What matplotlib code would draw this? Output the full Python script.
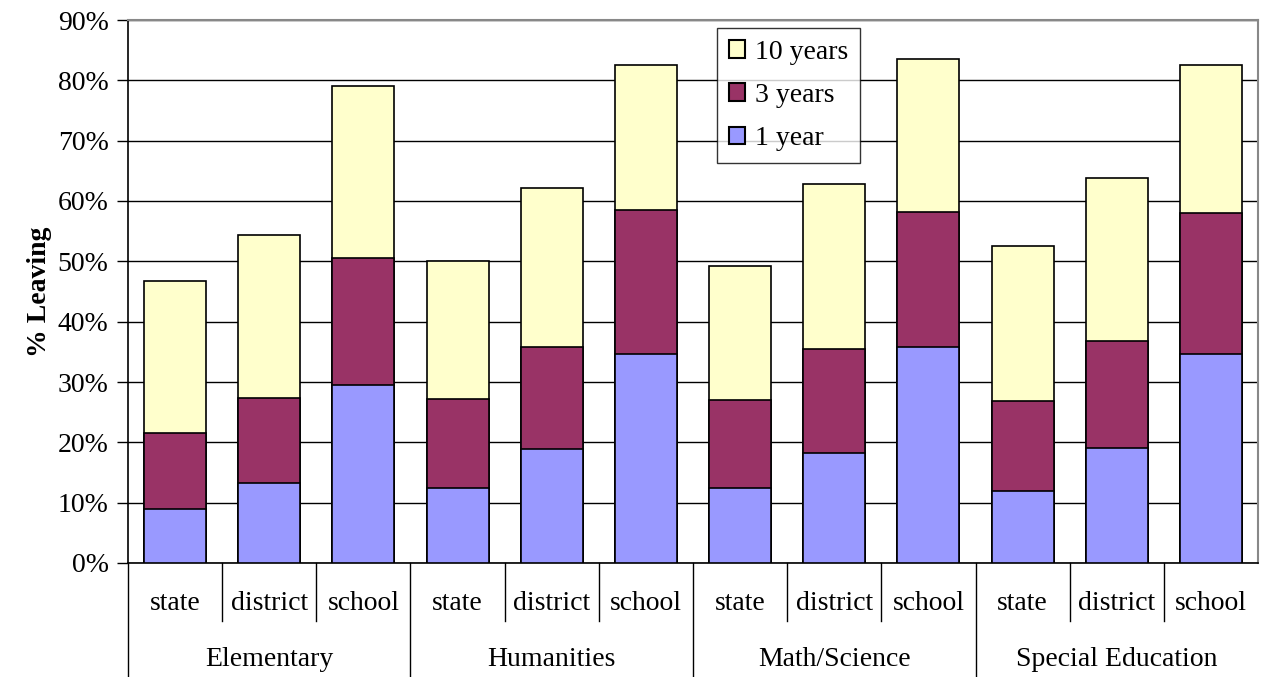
import matplotlib
matplotlib.use("Agg")
import matplotlib.pyplot as plt
from matplotlib.patches import Patch
import numpy as np

plt.rcParams['font.family'] = ['Liberation Serif', 'DejaVu Serif']

groups = ["Elementary", "Humanities", "Math/Science", "Special Education"]
levels = ["state", "district", "school"]
# cumulative percentages leaving
one_year = [9.0, 13.3, 29.5, 12.4, 18.9, 34.6, 12.4, 18.2, 35.8, 11.9, 19.1, 34.6]
three_years = [21.5, 27.3, 50.6, 27.2, 35.8, 58.5, 27.0, 35.5, 58.2, 26.9, 36.8, 58.0]
ten_years = [46.7, 54.4, 79.1, 50.1, 62.2, 82.5, 49.2, 62.8, 83.5, 52.5, 63.8, 82.5]

c1, c3, c10 = "#9999FF", "#993366", "#FFFFCC"
FS = 20

W, H = 1263, 677
fig = plt.figure(figsize=(W/100, H/100), dpi=100)
L, R, T, B = 128, 1258, 20, 563
ax = fig.add_axes([L/W, 1 - B/H, (R-L)/W, (B-T)/H])

n = len(one_year)
x = np.arange(n)
bw = 0.66
ax.bar(x, ten_years, bw, color=c10, edgecolor="black", linewidth=1.2, zorder=3, label="10 years")
ax.bar(x, three_years, bw, color=c3, edgecolor="black", linewidth=1.2, zorder=4, label="3 years")
ax.bar(x, one_year, bw, color=c1, edgecolor="black", linewidth=1.2, zorder=5, label="1 year")

ax.set_xlim(-0.5, n - 0.5)
ax.set_ylim(0, 90)
ax.set_yticks(np.arange(0, 91, 10))
ax.set_yticklabels([f"{v}%" for v in range(0, 91, 10)], fontsize=FS)
ax.yaxis.grid(True, color="black", linewidth=1.0, zorder=0)
ax.set_axisbelow(True)
ax.tick_params(axis='y', length=8, width=1, direction='out', pad=6)
ax.set_xticks([])
for s in ["top", "right"]:
    ax.spines[s].set_color("#888888")
    ax.spines[s].set_linewidth(1.5)
ax.spines["left"].set_linewidth(1.2)
ax.spines["bottom"].set_linewidth(1.2)
ax.set_ylabel("% Leaving", fontsize=FS, fontweight="bold", labelpad=4)

# hierarchical category labels
trans = ax.get_xaxis_transform()
def yax(py):
    return (B - py) / (B - T)

for i in range(n):
    ax.text(x[i], yax(603), levels[i % 3], transform=trans, ha="center", va="center",
            fontsize=FS, clip_on=False)
for i in range(n + 1):
    xp = i - 0.5
    if i % 3 == 0:
        if i == n:
            continue
        ax.plot([xp, xp], [0, yax(677)], transform=trans, color="black", lw=1.0, clip_on=False)
    else:
        ax.plot([xp, xp], [0, yax(621)], transform=trans, color="black", lw=1.0, clip_on=False)
for g, name in enumerate(groups):
    ax.text(3*g + 1, yax(659), name, transform=trans, ha="center", va="center",
            fontsize=FS, clip_on=False)

handles = [Patch(facecolor=c10, edgecolor="black", linewidth=1.5, label="10 years"),
           Patch(facecolor=c3, edgecolor="black", linewidth=1.5, label="3 years"),
           Patch(facecolor=c1, edgecolor="black", linewidth=1.5, label="1 year")]
leg = ax.legend(handles=handles, loc="upper left",
                bbox_to_anchor=((717-L)/(R-L), (B-28)/(B-T)),
                fontsize=FS, frameon=True, fancybox=False, edgecolor="black",
                handlelength=0.6, handleheight=0.6, handletextpad=0.35,
                labelspacing=0.66, borderpad=0.42, borderaxespad=0)
leg.get_frame().set_linewidth(1.0)
leg.set_zorder(10)

fig.savefig("out.png", dpi=100)
